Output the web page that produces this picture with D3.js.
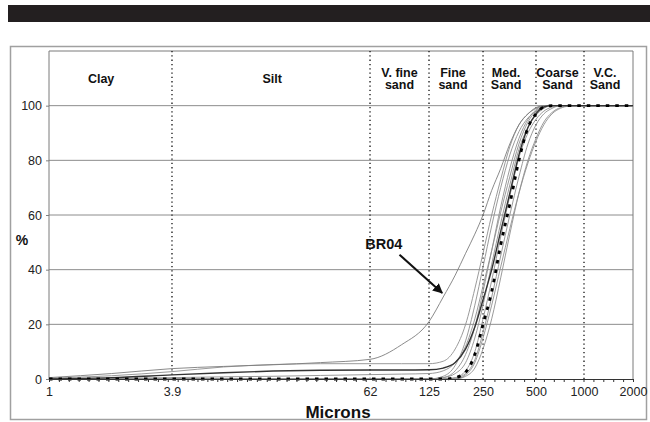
<!DOCTYPE html>
<html>
<head>
<meta charset="utf-8">
<script src="https://cdn.jsdelivr.net/npm/d3@7"></script>
<style>
  html, body { margin: 0; padding: 0; background: #fff; }
  svg { display: block; font-family: "Liberation Sans", Arial, sans-serif; }
</style>
</head>
<body>
<svg id="chart" width="650" height="422"></svg>
<script>
// ---------------- DATA ----------------
const sizes = [1, 2, 3.9, 8, 16, 31, 62, 90, 125, 150, 175, 200, 225, 250, 280, 315, 355, 400, 450, 500, 560, 630, 710, 800, 1000, 2000];

const meanCurve = [0, 0, 0, 0, 0, 0, 0, 0, 0, 0, 0.5, 2.5, 9, 20, 32, 49, 64, 80, 92, 97, 99.5, 100, 100, 100, 100, 100];
const br04      = [0.5, 2, 3.8, 4.6, 5.2, 6.0, 7.2, 12.5, 21, 30, 38, 46, 53, 60, 69, 77, 86, 93, 97, 99, 100, 100, 100, 100, 100, 100];
const darkCurve = [0, 0.5, 1.5, 2.3, 2.9, 3.2, 3.3, 3.3, 3.4, 4, 6, 11, 19, 29, 40, 54, 68, 82, 92, 97, 99.5, 100, 100, 100, 100, 100];
const thinCurves = [
  [0.3, 1.2, 2.7, 4.4, 5.3, 5.6, 5.6, 5.6, 5.6, 6.5, 11, 20, 33, 46, 60, 73, 85, 93, 97, 99.3, 100, 100, 100, 100, 100, 100],
  [0, 0.2, 0.5, 0.8, 1.0, 1.3, 1.6, 1.8, 2, 3, 6, 12, 22, 34, 47, 61, 74, 86, 94, 98, 99.7, 100, 100, 100, 100, 100],
  [0, 0, 0, 0, 0, 0, 0, 0, 0, 0.5, 2, 6, 15, 27, 42, 57, 71, 84, 92, 96.5, 99, 100, 100, 100, 100, 100],
  [0, 0, 0, 0, 0, 0, 0, 0, 0, 0, 0, 1.5, 6, 15, 27, 41, 55, 68, 79, 87, 93, 97, 99, 99.8, 100, 100],
  [0, 0, 0, 0, 0, 0, 0, 0, 0, 0, 0.3, 2, 7, 17, 30, 45, 60, 74, 86, 93, 97, 99, 100, 100, 100, 100],
  [0, 0, 0, 0, 0, 0, 0, 0, 0, 1, 5, 14, 27, 41, 56, 70, 82, 90.5, 95.5, 98, 99.5, 100, 100, 100, 100, 100],
  [0, 0, 0, 0, 0, 0, 0, 0, 0, 0, 0.5, 3, 10, 22, 36, 52, 67, 81, 90, 95, 98, 99.5, 100, 100, 100, 100],
  [0, 0, 0, 0, 0, 0, 0, 0, 0, 0, 0, 1, 4, 11, 22, 37, 53, 68, 80, 88, 94, 97.5, 99.3, 100, 100, 100],
  [0, 0, 0, 0, 0, 0, 0, 0, 0, 0.5, 3, 9, 19, 32, 47, 63, 77, 88, 95, 98.5, 100, 100, 100, 100, 100, 100]
];

const xTickLabels = [1, 3.9, 62, 125, 250, 500, 1000, 2000];
const classBoundaries = [3.9, 62, 125, 250, 500, 1000];
const classNames = [["Clay"], ["Silt"], ["V. fine", "sand"], ["Fine", "sand"], ["Med.", "Sand"], ["Coarse", "Sand"], ["V.C.", "Sand"]];
const classLabelAt = [1.78, 15.8, 88, 170, 338, 682, 1346];
const yTicks = [0, 20, 40, 60, 80, 100];
const minorTickCount = 60;
const annotation = { text: "BR04" };

// ---------------- LAYOUT ----------------
const svg = d3.select("#chart");
const plot = { left: 49, top: 51, width: 584, height: 328 };
const axisFractions = [0, 0.2106, 0.5497, 0.6507, 0.7432, 0.8339, 0.9161, 1];

// Top black band and frame
svg.append("rect").attr("x", 8).attr("y", 5).attr("width", 642).attr("height", 17).attr("fill", "#231f20");
svg.append("rect").attr("x", 10.5).attr("y", 46.5).attr("width", 636).attr("height", 373)
   .attr("fill", "#fff").attr("stroke", "#a0a0a0").attr("stroke-width", 1.5);

const g = svg.append("g").attr("transform", `translate(${plot.left},${plot.top})`);

const x = d3.scaleLog().domain(xTickLabels).range(axisFractions.map(f => f * plot.width));
const y = d3.scaleLinear().domain([0, 120]).range([plot.height, 0]);
const xIdx = d3.scaleLinear().domain([0, minorTickCount - 1]).range([0, plot.width]);

// Horizontal gridlines + y axis
const yAxis = d3.axisLeft(y).tickValues(yTicks).tickSize(3).tickPadding(4);
g.append("g").call(yAxis).call(a => {
  a.select(".domain").remove();
  a.selectAll("line").attr("stroke", "#808080");
  a.selectAll("text").attr("font-size", 12.5).attr("fill", "#222");
});
g.append("g").selectAll("line").data(yTicks.filter(v => v > 0)).join("line")
  .attr("x1", 0).attr("x2", plot.width)
  .attr("y1", d => y(d)).attr("y2", d => y(d))
  .attr("stroke", "#8c8c8c").attr("stroke-width", 1);

// Plot border (top, left, right)
g.append("path").attr("d", `M0,${plot.height}V0H${plot.width}V${plot.height}`)
  .attr("fill", "none").attr("stroke", "#7a7a7a").attr("stroke-width", 1);

// Class boundary dotted lines
g.append("g").selectAll("line").data(classBoundaries).join("line")
  .attr("x1", d => x(d)).attr("x2", d => x(d))
  .attr("y1", 0).attr("y2", plot.height)
  .attr("stroke", "#111").attr("stroke-width", 1.3).attr("stroke-dasharray", "1.3,3");

// Class labels
classNames.forEach((lines, i) => {
  const t = g.append("text").attr("text-anchor", "middle").attr("font-weight", "bold")
    .attr("font-size", 12.5).attr("fill", "#111")
    .attr("transform", `translate(${x(classLabelAt[i])},0)`);
  const y0 = lines.length === 1 ? 31.5 : 25.5;
  lines.forEach((s, j) => t.append("tspan").attr("x", 0).attr("y", y0 + j * 12.5).text(s));
});

// Curves
const line = d3.line()
  .x((d, i) => x(sizes[i]))
  .y(d => y(d))
  .curve(d3.curveMonotoneX);

g.append("g").selectAll("path").data(thinCurves).join("path")
  .attr("d", d => line(d)).attr("fill", "none")
  .attr("stroke", "#8f8f8f").attr("stroke-width", 0.9);
g.append("path").attr("d", line(br04)).attr("fill", "none")
  .attr("stroke", "#7d7d7d").attr("stroke-width", 0.9);
g.append("path").attr("d", line(darkCurve)).attr("fill", "none")
  .attr("stroke", "#333").attr("stroke-width", 1.4);
g.append("path").attr("d", line(meanCurve)).attr("fill", "none")
  .attr("stroke", "#000").attr("stroke-width", 2.8).attr("stroke-dasharray", "3.5,6");

// X axis: minor ticks + labels
const xMinor = d3.axisBottom(xIdx).tickValues(d3.range(minorTickCount)).tickSize(3).tickFormat("");
g.append("g").attr("transform", `translate(0,${plot.height})`).call(xMinor).call(a => {
  a.select(".domain").attr("stroke", "#333");
  a.selectAll("line").attr("stroke", "#333");
});
const xAxis = d3.axisBottom(x).tickValues(xTickLabels).tickSize(0).tickPadding(8).tickFormat(d => String(d));
g.append("g").attr("transform", `translate(0,${plot.height})`).call(xAxis).call(a => {
  a.select(".domain").remove();
  a.selectAll("text").attr("font-size", 12.5).attr("fill", "#222");
});

// Axis titles
svg.append("text").attr("x", 338).attr("y", 418).attr("text-anchor", "middle")
  .attr("font-weight", "bold").attr("font-size", 17).attr("fill", "#111").text("Microns");
svg.append("text").attr("x", 22).attr("y", 245).attr("text-anchor", "middle")
  .attr("font-weight", "bold").attr("font-size", 14).attr("fill", "#111").text("%");

// BR04 annotation with arrow
const defs = svg.append("defs");
defs.append("marker").attr("id", "arrow").attr("viewBox", "0 0 10 10")
  .attr("refX", 9).attr("refY", 5).attr("markerWidth", 5).attr("markerHeight", 5)
  .attr("orient", "auto").append("path").attr("d", "M0,0L10,5L0,10Z").attr("fill", "#111");
g.append("text").attr("x", x(58) ).attr("y", y(47.5)).attr("text-anchor", "start")
  .attr("font-weight", "bold").attr("font-size", 14.5).attr("fill", "#111").text(annotation.text);
g.append("line")
  .attr("x1", x(88)).attr("y1", y(45.5))
  .attr("x2", x(148)).attr("y2", y(31.5))
  .attr("stroke", "#111").attr("stroke-width", 2).attr("marker-end", "url(#arrow)");
</script>
</body>
</html>
